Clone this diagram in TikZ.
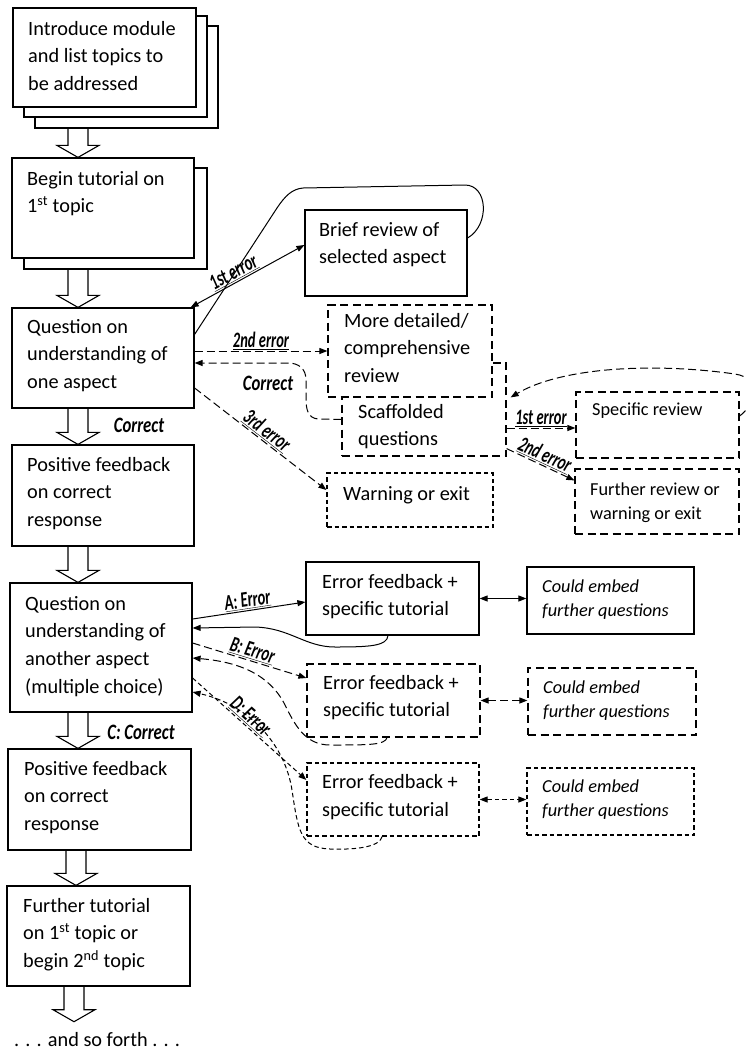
\documentclass[tikz,border=0pt]{standalone}
\usepackage{fontspec}
\usepackage{graphicx}
\setmainfont{Carlito}
\usetikzlibrary{arrows.meta,calc,fit}
\newcommand\bodyfont{\fontsize{20.3pt}{27.8pt}\selectfont}
\newcommand\smallfnt{\fontsize{18.3pt}{24.5pt}\selectfont}
\newcommand\lblfont{\fontsize{22pt}{23pt}\selectfont\bfseries\itshape}
\newcommand\elbl[1]{\scalebox{0.66}[1]{\underline{#1}}}
\newcommand\cor[1]{\scalebox{0.76}[1]{#1}}
\newcommand\ml[1]{\parbox[t]{200pt}{\raggedright #1}}
\newcommand\barrow[3]{%
  \draw[blockarrow] let \p1=(#1.south), \p2=(#2.north) in
  (#3-10pt,\y1) -- (#3-10pt,\y2+12pt) -- (#3-21pt,\y2+12pt) -- (#3,\y2)
  -- (#3+21pt,\y2+12pt) -- (#3+10pt,\y2+12pt) -- (#3+10pt,\y1);}
\tikzset{
  bx/.style={draw, line width=1.2pt, fill=white, inner sep=0pt, rectangle},
  dbx/.style={bx, dash pattern=on 8pt off 4.5pt},
  fbx/.style={bx, dash pattern=on 4.5pt off 3pt},
  txt/.style={anchor=base west, inner sep=0pt, font=\bodyfont},
  stxt/.style={txt, font=\smallfnt},
  conn/.style={line width=1pt, ->},
  dconn/.style={conn, dash pattern=on 8pt off 4pt},
  fconn/.style={conn, dash pattern=on 4.5pt off 3pt},
  lbl/.style={font=\lblfont, inner sep=1pt},
  clbl/.style={font=\lblfont, inner sep=0pt},
  blockarrow/.style={draw, line width=1.1pt, line join=miter}
}
\begin{document}
\begin{tikzpicture}[x=1pt,y=-1pt,>={Triangle[length=8pt,width=6pt]}]
\useasboundingbox (0,0) rectangle (745,1053);

% ---------------- left column ----------------
\node[bx, fit={(35,26) (218,128)}] (b1c) {};
\node[bx, fit={(24,16) (207,117)}] (b1b) {};
\node[bx, fit={(13,8) (196,107)}] (b1) {};
\node[txt] (t1) at (28,35) {\ml{Introduce module\\and list topics to\\be addressed}};

\node[bx, fit={(24,168) (207,269)}] (b2b) {};
\node[bx, fit={(12,158) (194,258)}] (b2) {};
\node[txt] (t2) at (27,185) {\ml{Begin tutorial on\\1\textsuperscript{st} topic}};

\node[bx, fit={(12,308) (194,408)}] (q1) {};
\node[txt] (t3) at (27,333) {\ml{Question on\\understanding of\\one aspect}};

\node[bx, fit={(12,445) (194,546)}] (pf1) {};
\node[txt] (t4) at (27,471) {\ml{Positive feedback\\on correct\\response}};

\node[bx, fit={(10,583) (192,712)}] (q2) {};
\node[txt] (t5) at (25,610) {\ml{Question on\\understanding of\\another aspect\\(multiple choice)}};

\node[bx, fit={(8,749) (191,850)}] (pf2) {};
\node[txt] (t6) at (24,775) {\ml{Positive feedback\\on correct\\response}};

\node[bx, fit={(7,886) (190,986)}] (fu) {};
\node[txt] (t7) at (23,912) {\ml{Further tutorial\\on 1\textsuperscript{st} topic or\\begin 2\textsuperscript{nd} topic}};

\node[txt, inner ysep=10pt] (endt) at (14,1046) {. . . and so forth . . .};

\barrow{b1c}{b2}{78pt}
\barrow{b2b}{q1}{78pt}
\barrow{q1}{pf1}{78pt}
\barrow{pf1}{q2}{78pt}
\barrow{q2}{pf2}{78pt}
\barrow{pf2}{fu}{76pt}
\barrow{fu}{endt}{74pt}

\node[clbl] (lc1) at (139,425) {\cor{Correct}};
\node[clbl] (lc2) at (141,732) {\cor{C: Correct}};

% ---------------- upper right ----------------
\node[bx, fit={(305,210) (467,296)}] (brief) {};
\node[txt] (t8) at (319,236) {\ml{Brief review of\\selected aspect}};

\node[dbx, fit={(342,363) (506,456)}] (scaff) {};
\node[dbx, fit={(328,305) (492,397)}] (more) {};
\node[txt] (t9) at (344,327) {\ml{More detailed/\\comprehensive\\review}};
\node[txt] (t10) at (358,418) {\ml{Scaffolded\\questions}};

\node[fbx, fit={(327,473) (493,527)}] (warn) {};
\node[txt] (t11) at (343,500) {Warning or exit};

\node[dbx, fit={(576,392) (739,458)}] (spec) {};
\node[stxt] (t12) at (592,415) {Specific review};

\node[dbx, fit={(575,469) (739,534)}] (furth) {};
\node[stxt] (t13) at (590,495) {\ml{Further review or\\warning or exit}};

% ---------------- lower right ----------------
\node[bx, fit={(306,562) (479,635)}] (eA) {};
\node[txt] (t14) at (322,588) {\ml{Error feedback +\\specific tutorial}};
\node[bx, fit={(527,567) (694,634)}] (cA) {};
\node[stxt] (t15) at (542,592) {\ml{\itshape Could embed\\further questions}};

\node[dbx, fit={(307,664) (480,737)}] (eB) {};
\node[txt] (t16) at (323,689) {\ml{Error feedback +\\specific tutorial}};
\node[dbx, fit={(528,668) (696,735)}] (cB) {};
\node[stxt] (t17) at (543,693) {\ml{\itshape Could embed\\further questions}};

\node[fbx, fit={(307,763) (479,836)}] (eD) {};
\node[txt] (t18) at (322,788.5) {\ml{Error feedback +\\specific tutorial}};
\node[fbx, fit={(527,768) (694,835)}] (cD) {};
\node[stxt] (t19) at (542,792) {\ml{\itshape Could embed\\further questions}};

% ---------------- connectors ----------------
\draw[conn,<->] ([xshift=-4pt]q1.north east) -- node[lbl, sloped, above, pos=0.42] (l1) {\elbl{1st error}} ([yshift=8pt]brief.west);
\draw[line width=1pt] ([yshift=-27pt]q1.north east) -- (277,208) .. controls (285,196) and (292,189) .. (303,188) -- (465,185) .. controls (488,185) and (490,225) .. ([yshift=15pt]brief.east);

\draw[dconn] (more.west -| q1.east) -- node[lbl, above] (l2) {\elbl{2nd error}} (more.west);

\draw[dconn] ([yshift=-10pt]scaff.west) -- (318,419) .. controls (308,418) and (306,410) .. (306,398) -- (306,380) .. controls (306,369) and (299,363) .. (288,363) -- ([yshift=-5pt]q1.east);
\node[clbl] (lc3) at (268,383) {\cor{Correct}};

\draw[dconn] ([yshift=-30pt]q1.east) -- node[lbl, sloped, above] (l3) {\elbl{3rd error}} ([yshift=10pt]warn.west);

\coordinate (p1) at ([yshift=-3pt]spec.west);
\draw[dconn] (p1 -| scaff.east) -- node[lbl, above] (l4) {\elbl{1st error}} (p1);
\draw[dconn] ([yshift=8pt]scaff.south east) -- node[lbl, sloped, above] (l5) {\elbl{2nd error}} ([yshift=-12pt]furth.north west);
\draw[dconn] ([yshift=9pt]spec.east) .. controls (755,405) and (762,378) .. (735,374) .. controls (650,362) and (560,368) .. ([xshift=4pt,yshift=-35pt]scaff.north east);

\draw[conn] ([yshift=28.5pt]q2.east) -- node[lbl, sloped, above] (l6) {\elbl{A: Error}} ([yshift=-3.5pt]eA.west);
\draw[conn] ([xshift=-4.5pt]eA.south) .. controls (387,646) and (370,647) .. (335,647) .. controls (305,647) and (290,628) .. (255,627) -- ([yshift=19.5pt]q2.east);

\draw[dconn] ([yshift=4.5pt]q2.east) -- node[lbl, sloped, above] (l7) {\elbl{B: Error}} ([yshift=22.5pt]eB.west);
\draw[dconn] ([xshift=-6.5pt]eB.south) .. controls (385,745) and (370,745) .. (330,745) .. controls (305,745) and (295,725) .. (285,705) .. controls (270,675) and (240,662) .. ([yshift=-10.5pt]q2.east);

\draw[fconn] ([yshift=-30.5pt]q2.east) -- node[lbl, sloped, above, pos=0.45] (l8) {\elbl{D: Error}} ([yshift=19.5pt]eD.west);
\draw[fconn] ([xshift=-11pt]eD.south) .. controls (380,846) and (360,850) .. (330,849) .. controls (300,848) and (298,830) .. (292,790) .. controls (285,745) and (250,705) .. ([yshift=-44.5pt]q2.east);

\draw[conn,<->] (eA.east) -- (eA.east -| cA.west);
\draw[dconn,<->] (eB.east) -- (eB.east -| cB.west);
\draw[fconn,<->] (eD.east) -- (eD.east -| cD.west);
\end{tikzpicture}
\end{document}
